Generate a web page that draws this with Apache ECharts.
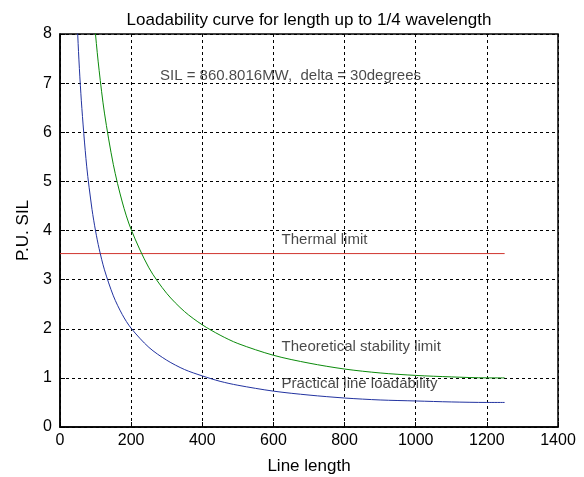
<!DOCTYPE html>
<html>
<head>
<meta charset="utf-8">
<title>Loadability curve</title>
<script src="https://cdn.jsdelivr.net/npm/echarts@6/dist/echarts.min.js"></script>
<style>
  html, body { margin: 0; padding: 0; background: #fff; }
  #charts { width: 584px; height: 477px; }
</style>
</head>
<body>
<div id="charts"></div>
<script>
// line length (km) where the curves were read
var lengthKm = [40, 50, 60, 75, 90, 100, 110, 125, 150, 175, 200, 250, 300, 350, 400, 450, 500, 600, 700, 800, 900, 1000, 1100, 1200, 1250];
// theoretical stability limit, p.u. SIL (only from 90 km on, it is above 8 before)
var theoretical = [null, null, null, null, 8.86, 7.98, 7.26, 6.39, 5.34, 4.58, 4.02, 3.24, 2.72, 2.35, 2.08, 1.87, 1.70, 1.46, 1.30, 1.18, 1.10, 1.05, 1.02, 1.00, 1.00];
// practical line loadability, p.u. SIL
var practical = [9.95, 7.96, 6.64, 5.31, 4.43, 3.99, 3.63, 3.20, 2.67, 2.29, 2.01, 1.62, 1.36, 1.17, 1.04, 0.93, 0.85, 0.73, 0.65, 0.59, 0.55, 0.53, 0.51, 0.50, 0.50];
// thermal limit
var thermalX = [0, 1250];
var thermalY = [3.53, 3.53];

var xTicks = [0, 200, 400, 600, 800, 1000, 1200, 1400];
var yTicks = [0, 1, 2, 3, 4, 5, 6, 7, 8];

// text written on the plot
var notes = [
    { text: 'SIL = 860.8016MW,  delta = 30degrees', x: 281, y: 7.14 },
    { text: 'Thermal limit', x: 623, y: 3.80 },
    { text: 'Theoretical stability limit', x: 623, y: 1.63 },
    { text: 'Practical line loadability', x: 623, y: 0.88 }
];

function pairs(xs, ys) {
    return xs.map(function (x, i) { return [x, ys[i]]; });
}

var font = '"Liberation Sans", Arial, Helvetica, sans-serif';
var gridLine = { show: true, lineStyle: { color: '#000', type: [3, 3], width: 1 } };

var myChart = echarts.init(document.getElementById('charts'));

var option = {
    animation: false,
    backgroundColor: '#fff',
    textStyle: { fontFamily: font },
    title: {
        text: 'Loadability curve for length up to 1/4 wavelength',
        left: 304, top: 7, textAlign: 'center',
        textStyle: { fontFamily: font, fontSize: 17, fontWeight: 'normal', color: '#000' }
    },
    grid: {
        left: 60, right: 26, top: 34, bottom: 50,
        outerBoundsMode: 'none', containLabel: false,
        show: true, borderColor: '#000', borderWidth: 1.5
    },
    xAxis: {
        type: 'value',
        min: xTicks[0], max: xTicks[xTicks.length - 1], interval: 200,
        name: 'Line length', nameLocation: 'middle', nameGap: 31,
        nameTextStyle: { fontFamily: font, fontSize: 17, color: '#000' },
        axisLine: { show: true, onZero: false, lineStyle: { color: '#000', width: 1.5 } },
        axisTick: { show: true, inside: true, length: 5, lineStyle: { color: '#000' } },
        axisLabel: { fontFamily: font, fontSize: 16, color: '#000', margin: 6,
            formatter: function (v) { return String(v); } },
        splitLine: gridLine
    },
    yAxis: {
        type: 'value',
        min: yTicks[0], max: yTicks[yTicks.length - 1], interval: 1,
        name: 'P.U. SIL', nameLocation: 'middle', nameGap: 28,
        nameTextStyle: { fontFamily: font, fontSize: 17, color: '#000' },
        axisLine: { show: true, lineStyle: { color: '#000', width: 1.5 } },
        axisTick: { show: true, inside: true, length: 5, lineStyle: { color: '#000' } },
        axisLabel: { fontFamily: font, fontSize: 16, color: '#000', margin: 8 },
        splitLine: gridLine
    },
    series: [
        {
            name: 'Thermal limit', type: 'line', showSymbol: false, clip: true,
            lineStyle: { color: '#d0352e', width: 1 },
            data: pairs(thermalX, thermalY)
        },
        {
            name: 'Theoretical stability limit', type: 'line', showSymbol: false, smooth: 0.3, clip: true,
            lineStyle: { color: '#0a8a0a', width: 1 },
            data: pairs(lengthKm, theoretical).filter(function (p) { return p[1] !== null; })
        },
        {
            name: 'Practical line loadability', type: 'line', showSymbol: false, smooth: 0.3, clip: true,
            lineStyle: { color: '#2233a0', width: 1 },
            data: pairs(lengthKm, practical)
        },
        {
            type: 'scatter', symbolSize: 0, silent: true,
            data: notes.map(function (n) { return { value: [n.x, n.y], name: n.text }; }),
            label: {
                show: true, position: 'right', distance: 0,
                formatter: function (p) { return p.name; },
                fontFamily: font, fontSize: 15, color: '#1a1a1a'
            }
        }
    ]
};

myChart.setOption(option);
</script>
</body>
</html>
